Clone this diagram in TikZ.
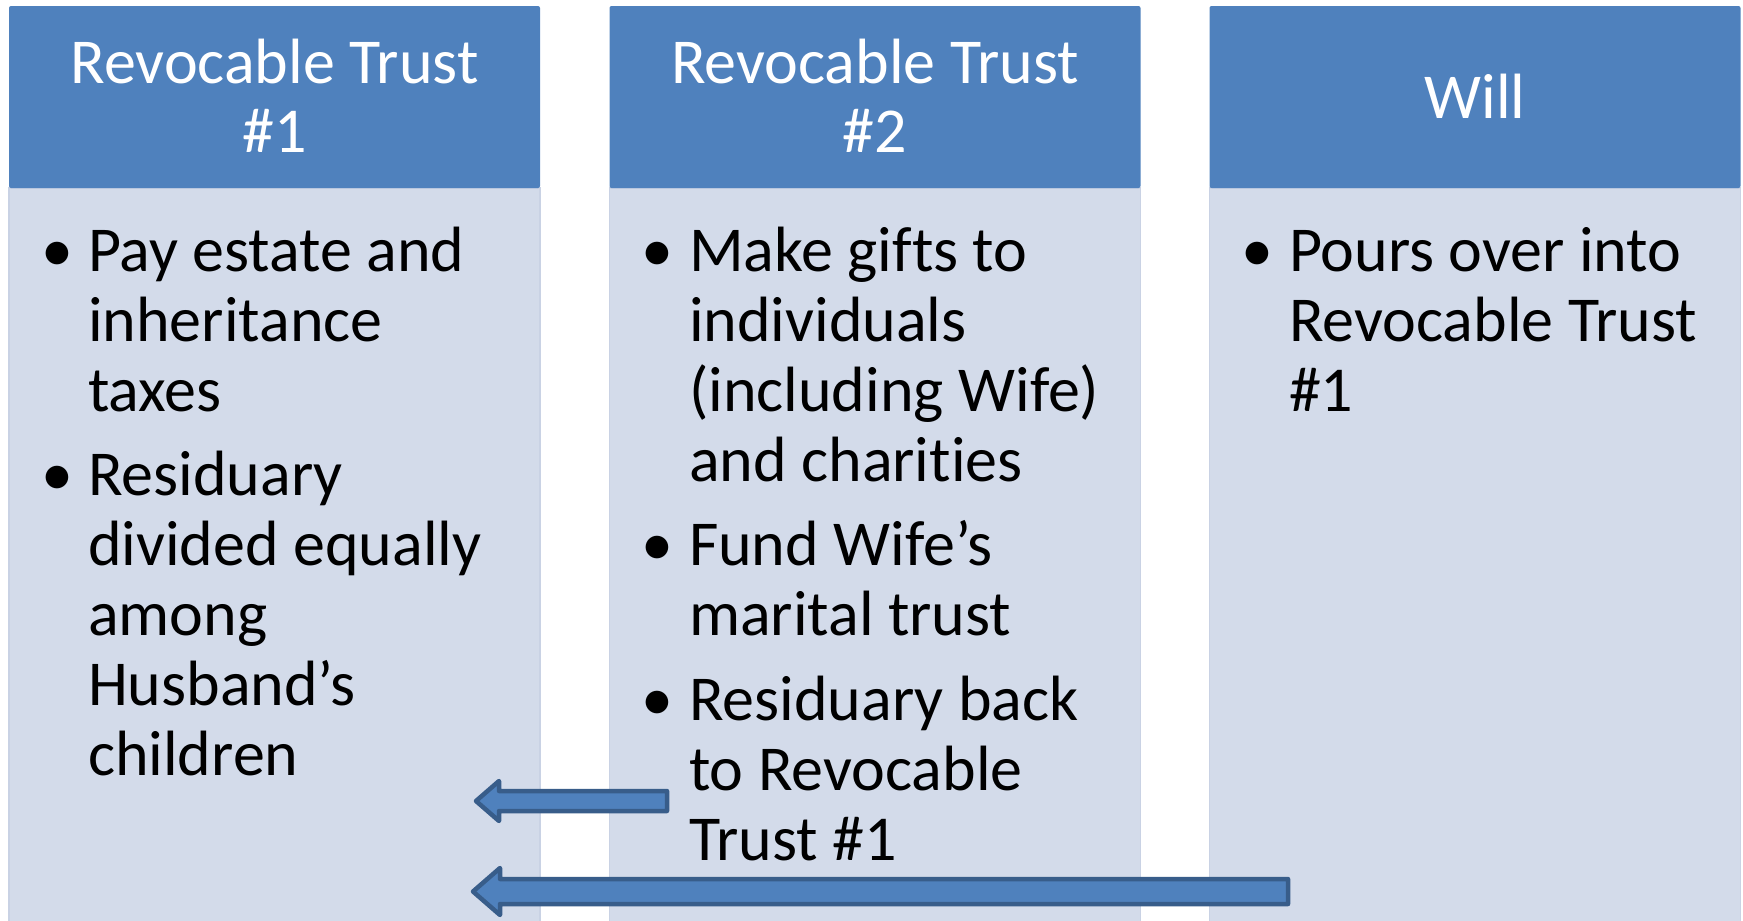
\documentclass[tikz,border=0pt]{standalone}
\usepackage{fontspec}
\setmainfont{Carlito}[Ligatures=NoCommon]
\usetikzlibrary{calc}
\definecolor{hdr}{HTML}{4F81BD}
\definecolor{bod}{HTML}{D3DBEA}
\definecolor{bodedge}{HTML}{C9D2E4}
\definecolor{arrline}{HTML}{385D8A}
\begin{document}
\begin{tikzpicture}[x=1pt,y=-1pt,
  hdrbox/.style={fill=hdr,draw=none,inner sep=0pt,outer sep=0pt,minimum width=531pt,minimum height=182pt,rounded corners=2pt},
  bodbox/.style={fill=bod,draw=bodedge,line width=1.5pt,inner sep=0pt,outer sep=0pt,minimum width=531pt,minimum height=736pt},
  hdrtext/.style={text=white,inner sep=0pt,outer sep=0pt,align=center,anchor=base,font=\fontsize{64}{69}\selectfont},
  itemtext/.style={text=black,inner sep=0pt,outer sep=0pt,align=left,anchor=base west,font=\fontsize{64}{70}\selectfont},
  bulletmark/.style={text=black,inner sep=0pt,outer sep=0pt,anchor=base,font=\fontsize{64}{70}\selectfont},
  blockarrow/.style={fill=hdr,draw=arrline,line width=4.5pt,line join=round}
]
\useasboundingbox (0,0) rectangle (1743,921);
% columns
\node[bodbox] (b1) at (274.5,556) {};
\node[bodbox] (b2) at (875,556) {};
\node[bodbox] (b3) at (1475,556) {};
\node[hdrbox] (h1) at (274.5,97) {};
\node[hdrbox] (h2) at (875,97) {};
\node[hdrbox] (h3) at (1475,97) {};
% header texts (anchored at the baseline of the last line)
\node[hdrtext] (h1t) at (274.5,152) {Revocable Trust\\\#1};
\node[hdrtext] (h2t) at (875,152) {Revocable Trust\\\#2};
\node[hdrtext] (h3t) at (1475,118) {Will};
% column 1
\node[bulletmark] (m11) at (57.5,271) {•};
\node[itemtext] (t11) at (88,411) {Pay estate and\\inheritance\\taxes};
\node[bulletmark] (m12) at (57.5,495.5) {•};
\node[itemtext] (t12) at (88,775.5) {Residuary\\divided equally\\among\\Husband’s\\children};
% column 2
\node[bulletmark] (m21) at (657.5,271) {•};
\node[itemtext] (t21) at (689,481) {Make gifts to\\individuals\\(including Wife)\\and charities};
\node[bulletmark] (m22) at (657.5,565.5) {•};
\node[itemtext] (t22) at (689,635.5) {Fund Wife’s\\marital trust};
\node[bulletmark] (m23) at (657.5,720) {•};
\node[itemtext] (t23) at (689,860) {Residuary back\\to Revocable\\Trust \#1};
% column 3
\node[bulletmark] (m31) at (1257.5,271) {•};
\node[itemtext] (t31) at (1289,411) {Pours over into\\Revocable Trust\\\#1};
% arrows
\coordinate (a1tip) at (476,801);
\coordinate (a1tail) at (667,801);
\coordinate (a2tip) at (473,891.5);
\coordinate (a2tail) at (1288,891.5);
\draw[blockarrow] ($(a1tail)+(0,-10)$) -- ($(a1tip)+(23,-10)$) -- ($(a1tip)+(23,-20)$) -- (a1tip) -- ($(a1tip)+(23,20)$) -- ($(a1tip)+(23,10)$) -- ($(a1tail)+(0,10)$) -- cycle;
\draw[blockarrow] ($(a2tail)+(0,-12.5)$) -- ($(a2tip)+(27,-12.5)$) -- ($(a2tip)+(27,-23.5)$) -- (a2tip) -- ($(a2tip)+(27,23.5)$) -- ($(a2tip)+(27,12.5)$) -- ($(a2tail)+(0,12.5)$) -- cycle;
\end{tikzpicture}
\end{document}
